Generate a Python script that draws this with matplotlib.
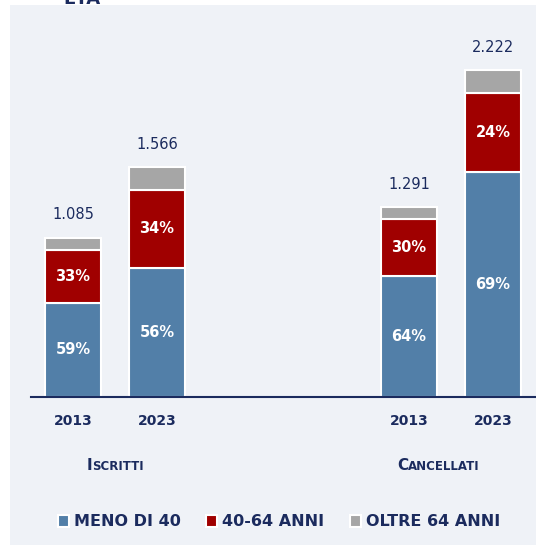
import matplotlib
matplotlib.use("Agg")
import matplotlib.pyplot as plt
from matplotlib.patches import Patch, Rectangle
from matplotlib.offsetbox import TextArea, HPacker, AnnotationBbox

# data
years = ["2013", "2023", "2013", "2023"]
positions = [0, 1, 4, 5]
totals = [1085, 1566, 1291, 2222]
total_labels = ["1.085", "1.566", "1.291", "2.222"]
pct_meno40 = [59, 56, 64, 69]
pct_40_64 = [33, 34, 30, 24]
pct_oltre64 = [8, 10, 6, 7]
groups = [("I", "SCRITTI"), ("C", "ANCELLATI")]
group_x = [0.5, 4.35]
series_names = ["MENO DI 40", "40-64 ANNI", "OLTRE 64 ANNI"]

BLUE = "#527fa8"
RED = "#a00000"
GRAY = "#a6a6a6"
NAVY = "#1b2b5e"
BG = "#eff2f7"

W, H = 536, 545
fig = plt.figure(figsize=(W / 100, H / 100), dpi=100)
fig.patch.set_facecolor("white")
fig.patches.append(Rectangle((10 / W, 0), 1, (H - 5) / H, transform=fig.transFigure,
                             facecolor=BG, edgecolor="none", zorder=-10))

# title, cut off at the very top like in the source
fig.text(63 / W, 1.0 - 4 / H, "ETÀ", color=NAVY, fontsize=13, fontweight="bold",
         ha="left", va="baseline")

base = (H - 397) / H
top = (H - 5) / H
ax = fig.add_axes([31 / W, base, (W - 31) / W, top - base])
ax.set_facecolor("none")
ax.set_xlim(-0.5, 5.512)
ax.set_ylim(0, 392 / 0.147)

v1 = [t * p / 100 for t, p in zip(totals, pct_meno40)]
v2 = [t * p / 100 for t, p in zip(totals, pct_40_64)]
v3 = [t * p / 100 for t, p in zip(totals, pct_oltre64)]
b2 = v1
b3 = [a + b for a, b in zip(v1, v2)]

bw = 0.66
ax.bar(positions, v1, bw, color=BLUE, edgecolor="white", linewidth=1.5)
ax.bar(positions, v2, bw, bottom=b2, color=RED, edgecolor="white", linewidth=1.5)
ax.bar(positions, v3, bw, bottom=b3, color=GRAY, edgecolor="white", linewidth=1.5)

for x, a, b, p1, p2 in zip(positions, v1, v2, pct_meno40, pct_40_64):
    ax.text(x, a / 2, f"{p1}%", color="white", fontsize=10.5, fontweight="bold",
            ha="center", va="center")
    ax.text(x, a + b / 2, f"{p2}%", color="white", fontsize=10.5, fontweight="bold",
            ha="center", va="center")

for x, t, lab in zip(positions, totals, total_labels):
    ax.annotate(lab, (x, t), xytext=(0, 11), textcoords="offset points",
                ha="center", va="bottom", color=NAVY, fontsize=10.5)

for s in ["top", "left", "right"]:
    ax.spines[s].set_visible(False)
ax.spines["bottom"].set_color(NAVY)
ax.spines["bottom"].set_linewidth(1.5)
ax.set_yticks([])
ax.set_xticks(positions)
ax.set_xticklabels(years, fontsize=10, fontweight="bold", color=NAVY)
ax.tick_params(axis="x", length=0, pad=12)

# small caps group labels
for (big, small), gx in zip(groups, group_x):
    box = HPacker(children=[
        TextArea(big, textprops=dict(fontsize=11, fontweight="bold", color=NAVY)),
        TextArea(small, textprops=dict(fontsize=8.5, fontweight="bold", color=NAVY)),
    ], align="baseline", pad=0, sep=0)
    ab = AnnotationBbox(box, (gx, 0), xybox=(0, -49), xycoords="data",
                        boxcoords="offset points", frameon=False,
                        box_alignment=(0.5, 0.5), annotation_clip=False)
    ax.add_artist(ab)

handles = [Patch(facecolor=c, edgecolor="white", linewidth=1.5) for c in (BLUE, RED, GRAY)]
fig.legend(handles, series_names, loc="center", bbox_to_anchor=(0.52, (H - 522) / H),
           ncol=3, frameon=False, handlelength=0.7, handleheight=0.7, handletextpad=0.3,
           columnspacing=1.6, prop=dict(size=11.5, weight="bold"), labelcolor=NAVY)

fig.savefig("out.png", dpi=100, facecolor=fig.get_facecolor())
